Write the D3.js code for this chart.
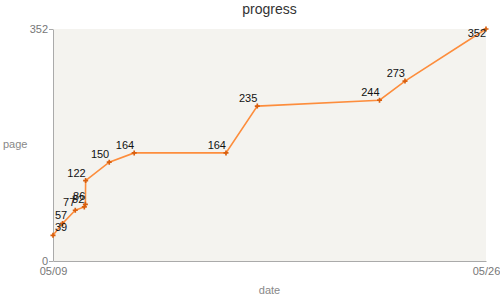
<!DOCTYPE html>
<html>
<head>
<meta charset="utf-8">
<script src="https://cdn.jsdelivr.net/npm/d3@7"></script>
<style>
  body { margin: 0; background: #fff; }
  svg { font-family: "Liberation Sans", Arial, sans-serif; }
  .axis path, .axis line { stroke: #aaa; }
  .axis text { fill: #777; font-size: 11px; }
</style>
</head>
<body>
<script>
let dates = ["2013-05-09T00:00", "2013-05-09T09:00", "2013-05-09T21:00", "2013-05-10T05:30",
  "2013-05-10T06:30", "2013-05-10T06:45", "2013-05-11T05:00", "2013-05-12T04:30",
  "2013-05-15T19:00", "2013-05-17T00:30", "2013-05-21T19:40", "2013-05-22T19:40",
  "2013-05-26T00:00"];
let pages = [39, 57, 77, 82, 86, 122, 150, 164, 164, 235, 244, 273, 352];

let width = 500,
  height = 300,
  margin = {top: 29, right: 14, bottom: 39, left: 53};

let parse = d3.timeParse("%Y-%m-%dT%H:%M");
let data = dates.map((d, i) => ({date: parse(d), page: pages[i]}));

let svg = d3.select("body").append("svg")
  .attr("width", width)
  .attr("height", height);

let x = d3.scaleTime()
  .domain(d3.extent(data, d => d.date))
  .range([margin.left, width - margin.right]);

let y = d3.scaleLinear()
  .domain([0, d3.max(pages)])
  .range([height - margin.bottom, margin.top]);

svg.append("rect")
  .attr("x", margin.left)
  .attr("y", margin.top)
  .attr("width", width - margin.left - margin.right)
  .attr("height", height - margin.top - margin.bottom)
  .attr("fill", "#f4f3ef");

svg.append("text")
  .text("progress")
  .attr("x", (margin.left + width - margin.right) / 2)
  .attr("y", 14)
  .attr("text-anchor", "middle")
  .attr("font-size", "14px")
  .attr("fill", "#333");

// axes
svg.append("g")
  .attr("class", "axis")
  .attr("transform", `translate(0,${height - margin.bottom})`)
  .call(d3.axisBottom(x).tickValues(x.domain()).tickFormat(d3.timeFormat("%m/%d")).tickSize(0).tickPadding(6).tickSizeOuter(0));

svg.append("g")
  .attr("class", "axis")
  .attr("transform", `translate(${margin.left},0)`)
  .call(d3.axisLeft(y).tickValues(y.domain()).tickSize(4).tickPadding(1).tickSizeOuter(0));

svg.append("text")
  .text("page")
  .attr("x", 3)
  .attr("y", 148)
  .attr("font-size", "11px")
  .attr("fill", "#888");

svg.append("text")
  .text("date")
  .attr("x", (margin.left + width - margin.right) / 2)
  .attr("y", 294)
  .attr("text-anchor", "middle")
  .attr("font-size", "11px")
  .attr("fill", "#888");

let line = d3.line()
  .x(d => x(d.date))
  .y(d => y(d.page));

svg.append("path")
  .datum(data)
  .attr("d", line)
  .attr("fill", "none")
  .attr("stroke", "#fd8d3c")
  .attr("stroke-width", 1.6);

svg.selectAll("path.pt").data(data).enter().append("path")
  .attr("class", "pt")
  .attr("d", d3.symbol().type(d3.symbolCross).size(14))
  .attr("transform", d => `translate(${x(d.date)},${y(d.page)})`)
  .attr("fill", "#d95f0e");

// labels sit left-above each point, kept inside the plot area
svg.selectAll("text.lbl").data(data).enter().append("text")
  .attr("class", "lbl")
  .attr("font-size", "11px")
  .attr("fill", "#111")
  .attr("text-anchor", "start")
  .text(d => d.page)
  .each(function(d) {
    let w = this.getComputedTextLength();
    let lx = Math.max(x(d.date) - w, margin.left + 2);
    let ly = Math.max(y(d.page) - 4, margin.top + 8);
    d3.select(this).attr("x", lx).attr("y", ly);
  });
</script>
</body>
</html>
